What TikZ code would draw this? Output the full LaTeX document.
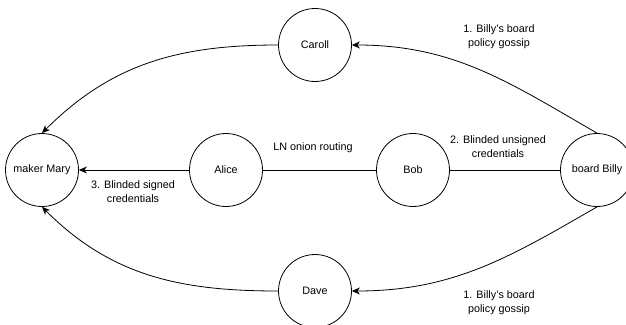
\documentclass[tikz,border=0pt]{standalone}
\usepackage{fontspec}
\setmainfont{Liberation Sans}
\usetikzlibrary{arrows.meta}
\begin{document}
\begin{tikzpicture}[x=1pt,y=-1pt,line width=0.8pt,
    peer/.style={draw,circle,minimum size=73pt,inner sep=0pt},
    lbl/.style={align=center},
    arr/.style={-{Stealth[length=8pt,width=7pt,inset=2.5pt]}}]
            \fontsize{10.8}{14}\selectfont
            \useasboundingbox (0,0) rectangle (626,324);
            \node[peer] (mary) at (42,170) {maker Mary};
            \node[peer] (alice) at (226,170) {Alice};
            \node[peer] (bob) at (413,170) {Bob};
            \node[peer] (billy) at (597,170) {board Billy};
            \node[peer] (caroll) at (315,45) {Caroll};
            \node[peer] (dave) at (315,291) {Dave};
            \draw[arr] (alice) -- (mary);
            \draw (alice) -- (bob);
            \draw (bob) -- (billy);
            \draw[arr] (billy.north) to[out=150,in=0] (caroll.east);
            \draw[arr] (billy.south) to[out=210,in=0] (dave.east);
            \draw[arr] (caroll.west) to[out=180,in=45] (mary.north);
            \draw[arr] (dave.west) to[out=180,in=-45] (mary.south);
            \node[lbl] (gossipa) at (499,37) {1. Billy's board\\policy gossip};
            \node[lbl] (gossipb) at (499,303) {1. Billy's board\\policy gossip};
            \node[lbl] (onion) at (313,148) {LN onion routing};
            \node[lbl] (unsigned) at (498,147) {2. Blinded unsigned\\credentials};
            \node[lbl] (signed) at (133,192) {3. Blinded signed\\credentials};
          \end{tikzpicture}
\end{document}
